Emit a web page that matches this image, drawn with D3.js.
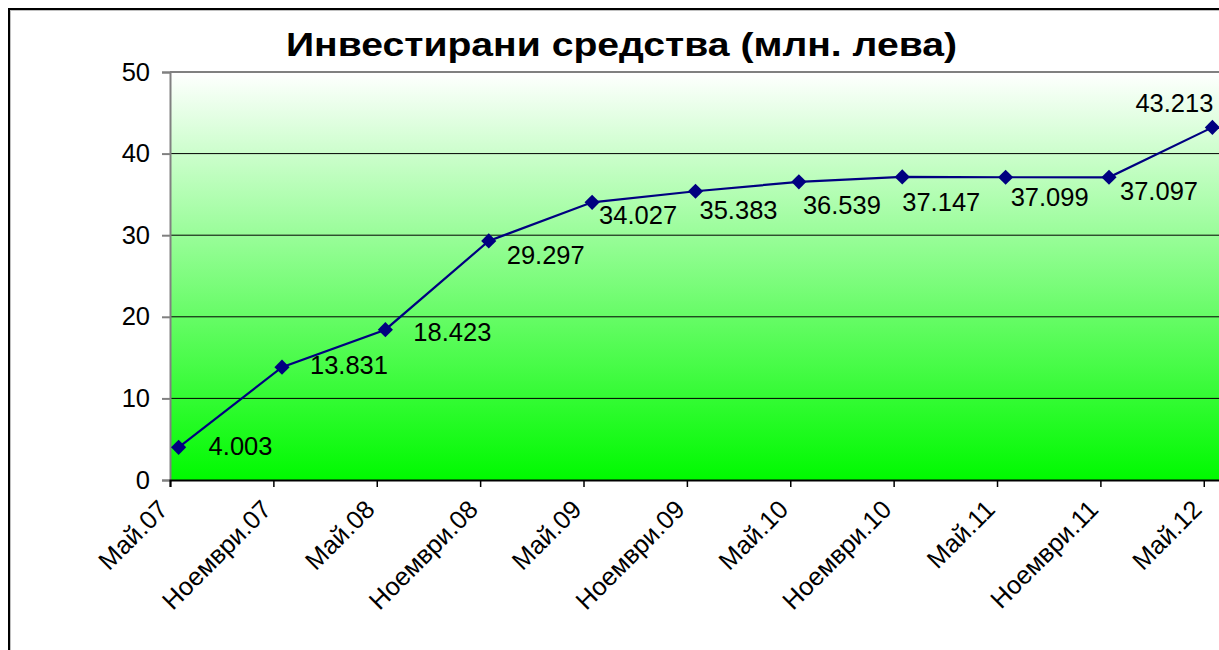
<!DOCTYPE html>
<html>
<head>
<meta charset="utf-8">
<script src="https://cdn.jsdelivr.net/npm/d3@7"></script>
<style>
  html, body { margin: 0; padding: 0; background: #ffffff; overflow: hidden; }
  svg { display: block; font-family: "Liberation Sans", Arial, sans-serif; }
</style>
</head>
<body>
<svg id="chart" width="1219" height="650"></svg>
<script>
// ---- data ----
const categories = ["Май.07", "Ноември.07", "Май.08", "Ноември.08", "Май.09", "Ноември.09",
                    "Май.10", "Ноември.10", "Май.11", "Ноември.11", "Май.12"];
const monthsFromStart = [0, 6, 12, 18, 24, 30, 36, 42, 48, 54, 60];
const values = [4.003, 13.831, 18.423, 29.297, 34.027, 35.383, 36.539, 37.147, 37.099, 37.097, 43.213];
const valueLabels = ["4.003", "13.831", "18.423", "29.297", "34.027", "35.383", "36.539", "37.147", "37.099", "37.097", "43.213"];
const yTicks = [0, 10, 20, 30, 40, 50];
const titleText = "Инвестирани средства (млн. лева)";

// ---- layout (manual label placement, as in the original) ----
const labelOffsets = [[30, 8], [28, 7], [28, 11], [18, 23], [7, 21.5], [4, 28], [4, 32], [0, 34.5], [5, 29], [11, 23], [-77, -15]];

const svg = d3.select("#chart");
const plot = { left: 170, top: 72, right: 1221, bottom: 480 };

const x = d3.scaleLinear().domain([0, 61]).range([plot.left, plot.right]);
const y = d3.scaleLinear().domain([0, 50]).range([plot.bottom, plot.top]);

// outer frame
svg.append("rect").attr("x", 10).attr("y", 10).attr("width", 1240).attr("height", 680)
  .attr("fill", "none").attr("stroke", "#c0c0c0").attr("stroke-width", 2);
svg.append("rect").attr("x", 9).attr("y", 9).attr("width", 1240).attr("height", 680)
  .attr("fill", "none").attr("stroke", "#000").attr("stroke-width", 2);

// gradient background
const defs = svg.append("defs");
const grad = defs.append("linearGradient").attr("id", "bg").attr("x1", 0).attr("y1", 0).attr("x2", 0).attr("y2", 1);
grad.append("stop").attr("offset", "0%").attr("stop-color", "#ffffff");
grad.append("stop").attr("offset", "100%").attr("stop-color", "#00fa00");

svg.append("rect")
  .attr("x", plot.left).attr("y", plot.top)
  .attr("width", plot.right - plot.left).attr("height", plot.bottom - plot.top)
  .attr("fill", "url(#bg)");

// gridlines
svg.append("g").selectAll("line").data(yTicks.filter(d => d > 0)).join("line")
  .attr("x1", plot.left).attr("x2", plot.right)
  .attr("y1", d => y(d)).attr("y2", d => y(d))
  .attr("stroke", d => d === 50 ? "#808080" : "#000").attr("stroke-width", d => d === 50 ? 2 : 1);

// y axis
const yAxis = d3.axisLeft(y).tickValues(yTicks).tickSize(8).tickPadding(12).tickFormat(d3.format("d"));
const gy = svg.append("g").attr("transform", `translate(${plot.left},0)`).call(yAxis);
gy.select(".domain").attr("stroke", "#808080").attr("stroke-width", 2);
gy.selectAll(".tick line").attr("stroke", "#808080").attr("stroke-width", 2);
gy.selectAll(".tick text").attr("font-size", 25.5).attr("fill", "#000")
  .attr("font-family", "Liberation Sans, Arial, sans-serif");

// x axis
const xAxis = d3.axisBottom(x).tickValues(monthsFromStart).tickSize(7).tickFormat((d, i) => categories[i]);
const gx = svg.append("g").attr("transform", `translate(0,${plot.bottom})`).call(xAxis);
gx.select(".domain").attr("stroke", "#000").attr("stroke-width", 2);
gx.selectAll(".tick line").attr("stroke", "#000").attr("stroke-width", 1.5);
gx.selectAll(".tick text")
  .attr("font-size", 25.5).attr("fill", "#000")
  .attr("font-family", "Liberation Sans, Arial, sans-serif")
  .attr("text-anchor", "end")
  .attr("x", 0).attr("y", 0).attr("dy", 0)
  .attr("transform", "translate(-1,31) rotate(-45)");

// line
const px = (d, i) => x(monthsFromStart[i] + 0.5);
const line = d3.line().x((d, i) => px(d, i)).y(d => y(d));
svg.append("path").datum(values).attr("d", line)
  .attr("fill", "none").attr("stroke", "#000080").attr("stroke-width", 2.2);

// markers (diamonds)
svg.append("g").selectAll("path").data(values).join("path")
  .attr("d", d3.symbol().type(d3.symbolSquare).size(115))
  .attr("transform", (d, i) => `translate(${px(d, i)},${y(d)}) rotate(45)`)
  .attr("fill", "#000080");

// data labels
svg.append("g").selectAll("text").data(values).join("text")
  .attr("x", (d, i) => px(d, i) + labelOffsets[i][0])
  .attr("y", (d, i) => y(d) + labelOffsets[i][1])
  .attr("font-size", 25.5).attr("fill", "#000")
  .text((d, i) => valueLabels[i]);

// title
svg.append("text").attr("x", 621.5).attr("y", 56)
  .attr("text-anchor", "middle").attr("font-size", 34).attr("font-weight", "bold")
  .attr("textLength", 671).attr("lengthAdjust", "spacingAndGlyphs")
  .attr("fill", "#000")
  .text(titleText);
</script>
</body>
</html>
